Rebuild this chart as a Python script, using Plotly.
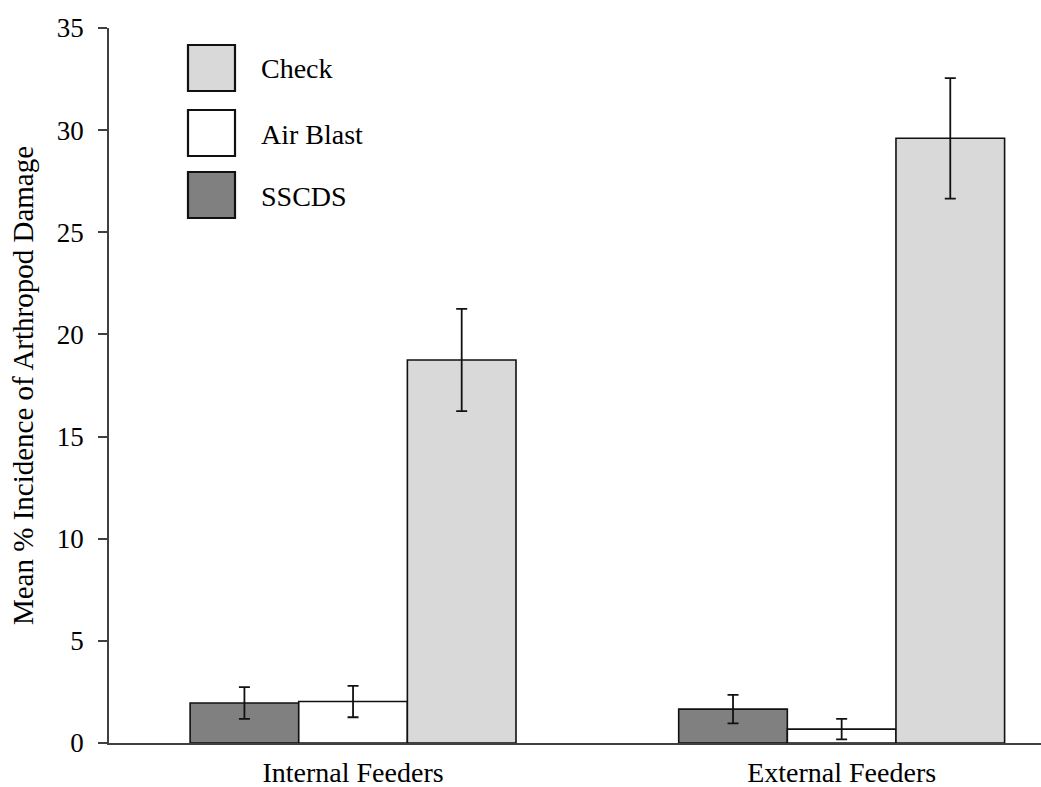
import plotly.graph_objects as go

categories = ["Internal Feeders", "External Feeders"]
series_names = ["SSCDS", "Air Blast", "Check"]
sscds = [1.96, 1.66]
sscds_err = [0.78, 0.70]
air_blast = [2.03, 0.68]
air_blast_err = [0.77, 0.50]
check = [18.75, 29.6]
check_err = [2.5, 2.95]
y_ticks = [0, 5, 10, 15, 20, 25, 30, 35]

values = [sscds, air_blast, check]
errors = [sscds_err, air_blast_err, check_err]
colors = ["#808080", "#ffffff", "#d9d9d9"]

FONT = "Liberation Serif, Times New Roman, serif"

fig = go.Figure()
for name, vals, errs, col in zip(series_names, values, errors, colors):
    fig.add_trace(go.Bar(
        name=name, x=categories, y=vals,
        marker=dict(color=col, line=dict(color="#111111", width=1.6)),
        error_y=dict(type="data", array=errs, visible=True, color="#111111", thickness=1.8, width=5.5),
        showlegend=False,
    ))

# custom legend (Check, Air Blast, SSCDS top-to-bottom)
leg_items = list(zip(series_names, colors))[::-1]
box_tops = [45, 110, 172]
W, H = 1041, 787
for (name, col), top in zip(leg_items, box_tops):
    fig.add_shape(type="rect", xref="paper", yref="paper",
                  x0=(188 - 109) / (W - 109), x1=(235 - 109) / (W - 109),
                  y0=(743 - (top + 46)) / (743 - 28), y1=(743 - top) / (743 - 28),
                  fillcolor=col, line=dict(color="#111111", width=2.2))
    fig.add_annotation(xref="paper", yref="paper", x=(259 - 109) / (W - 109),
                       y=(743 - (top + 24)) / (743 - 28), text=name, showarrow=False,
                       xanchor="left", yanchor="middle",
                       font=dict(family=FONT, size=28, color="#000000"))

fig.update_layout(
    width=W, height=H,
    barmode="group", bargap=0.333, bargroupgap=0,
    plot_bgcolor="white", paper_bgcolor="white",
    margin=dict(l=109, r=0, t=28, b=44),
    font=dict(family=FONT, color="#000000"),
    xaxis=dict(range=[-0.4995, 1.408], showline=True, linecolor="#404040", linewidth=1.5,
               ticks="", ticklabelstandoff=4, tickfont=dict(family=FONT, size=28),
               showgrid=False, zeroline=False),
    yaxis=dict(range=[0, 35], tickvals=y_ticks, showline=True, linecolor="#404040", linewidth=1.5,
               ticks="outside", ticklen=9, tickwidth=1.5, tickcolor="#404040", ticklabelstandoff=9,
               tickfont=dict(family=FONT, size=27), showgrid=False, zeroline=False,
               title=dict(text="Mean % Incidence of Arthropod Damage", font=dict(family=FONT, size=29))),
)

fig.write_html("out.html")
